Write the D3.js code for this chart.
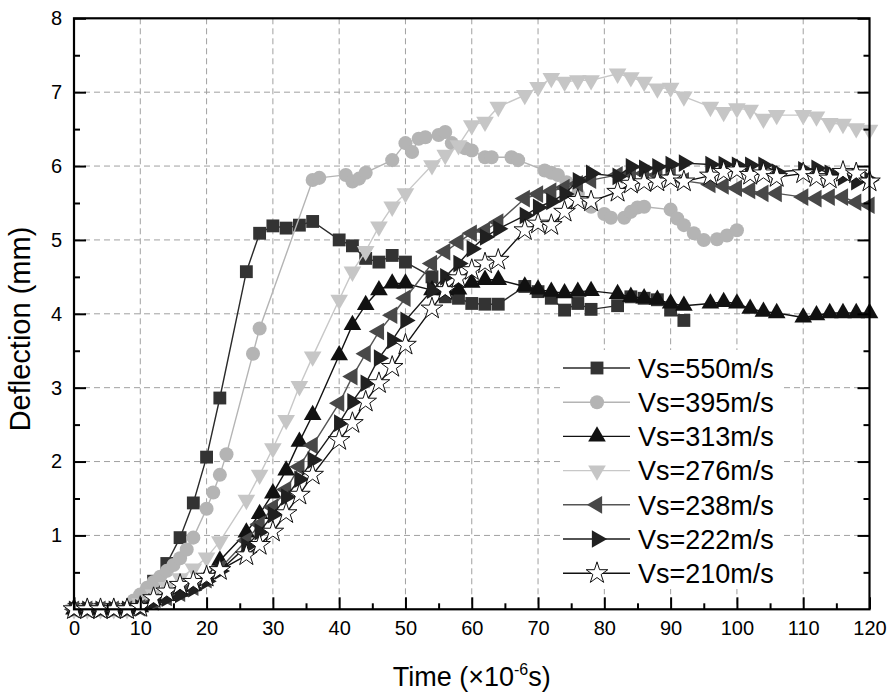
<!DOCTYPE html>
<html>
<head>
<meta charset="utf-8">
<script src="https://cdn.jsdelivr.net/npm/d3@7"></script>
<style>
  body { margin: 0; background: #fff; }
  svg { display: block; font-family: Arial, "Liberation Sans", sans-serif; }
  .grid line { stroke: #a0a0a0; stroke-dasharray: 6,4; stroke-width: 1; }
</style>
</head>
<body>
<svg id="chart" width="891" height="698"></svg>
<script>
// Deflection (mm) vs time (x1e-6 s)
const vs550 = [[0,0],[2,0],[4,0],[6,0],[8,0],[10,0.15],[12,0.38],[14,0.62],[16,0.97],[18,1.44],[20,2.06],
  [22,2.86],[26,4.57],[28,5.09],[30,5.19],[32,5.16],[34,5.2],[36,5.25],[40,5.0],[42,4.92],[44,4.75],
  [46,4.7],[48,4.79],[50,4.7],[54,4.5],[56,4.23],[58,4.21],[60,4.14],[62,4.13],[64,4.13],[68,4.37],
  [70,4.3],[72,4.21],[74,4.05],[76,4.14],[78,4.06],[82,4.11],[84,4.23],[86,4.21],[88,4.19],[90,4.05],[92,3.91]];
const vs395 = [[0,0],[2,0],[4,0],[6,0],[8,0],[9,0.12],[10,0.2],[11,0.29],[12,0.37],[13,0.44],[14,0.52],
  [15,0.6],[16,0.69],[17,0.81],[18,0.97],[20,1.36],[21,1.58],[22,1.82],[23,2.1],[27,3.46],[28,3.8],
  [36,5.81],[37,5.84],[41,5.88],[42,5.79],[43,5.83],[44,5.91],[48,6.08],[50,6.31],[51,6.19],[52,6.37],
  [53,6.39],[55,6.42],[56,6.46],[57,6.31],[59,6.24],[60,6.21],[62,6.12],[63,6.12],[66,6.12],[67,6.08],
  [71,5.94],[72,5.91],[73,5.88],[74.3,5.78],[76,5.62],[78,5.45],[80,5.35],[81,5.3],[83,5.3],[84,5.38],
  [85,5.44],[86,5.45],[90,5.41],[91,5.29],[92,5.2],[93.5,5.09],[95,5.0],[97,5.01],[98.5,5.06],[100,5.13]];
const vs313 = [[0,0],[2,0],[4,0],[6,0],[8,0],[10,0.03],[12,0.12],[14,0.18],[16,0.24],[18,0.32],[20,0.44],
  [22,0.66],[26,1.04],[28,1.29],[30,1.57],[32,1.88],[34,2.27],[36,2.63],[40,3.44],[42,3.85],[44,4.12],
  [46,4.32],[48,4.41],[50,4.41],[54,4.32],[56,4.32],[58,4.33],[60,4.42],[62,4.46],[64,4.46],[68,4.37],
  [70,4.33],[72,4.3],[74,4.28],[76,4.3],[78,4.31],[82,4.27],[84,4.23],[86,4.21],[88,4.19],[90,4.14],
  [92,4.11],[96,4.14],[98,4.16],[100,4.14],[102,4.07],[104,4.03],[106,4.01],[110,3.95],[112,3.98],
  [114,4.01],[116,4.01],[118,4.01],[120,4.01]];
const vs276 = [[0,0],[2,0],[4,0],[6,0],[8,0],[10,0.08],[12,0.2],[14,0.3],[16,0.42],[18,0.55],[20,0.7],
  [22,0.92],[26,1.48],[28,1.82],[30,2.18],[32,2.56],[34,3.02],[36,3.42],[40,4.19],[42,4.57],[44,4.85],
  [46,5.18],[48,5.45],[50,5.63],[54,6.01],[56,6.15],[58,6.28],[60,6.55],[62,6.6],[64,6.8],[68,6.96],
  [70,7.07],[72,7.19],[74,7.14],[76,7.16],[78,7.16],[82,7.25],[84,7.2],[86,7.14],[88,7.05],[90,7.06],
  [92,6.94],[96,6.8],[98,6.73],[100,6.78],[102,6.76],[104,6.64],[106,6.69],[110,6.69],[112,6.67],
  [114,6.58],[116,6.57],[118,6.51],[120,6.49]];
const vs238 = [[0,0],[2,0],[4,0],[6,0],[8,0],[10,0.02],[12,0.1],[14,0.16],[16,0.22],[18,0.3],[20,0.4],
  [22,0.55],[26,0.93],[28,1.15],[30,1.38],[32,1.62],[34,1.93],[36,2.22],[40,2.79],[42,3.15],[44,3.46],
  [46,3.76],[48,3.98],[50,4.21],[54,4.68],[56,4.84],[58,4.97],[60,5.09],[62,5.13],[64,5.24],[68,5.56],
  [70,5.62],[72,5.66],[74,5.71],[76,5.76],[78,5.81],[82,5.88],[84,5.9],[86,5.9],[88,5.88],[90,5.86],
  [92,5.8],[96,5.75],[98,5.73],[100,5.7],[102,5.67],[104,5.63],[106,5.63],[110,5.58],[112,5.56],
  [114,5.58],[116,5.58],[118,5.51],[120,5.47]];
const vs222 = [[0,0],[2,0],[4,0],[6,0],[8,0],[10,0.02],[12,0.1],[14,0.15],[16,0.2],[18,0.28],[20,0.38],
  [22,0.52],[26,0.85],[28,1.05],[30,1.28],[32,1.52],[34,1.76],[36,2.02],[40,2.52],[42,2.81],[44,3.06],
  [46,3.4],[48,3.64],[50,3.91],[54,4.32],[56,4.5],[58,4.68],[60,4.88],[62,5.04],[64,5.15],[68,5.33],
  [70,5.44],[72,5.52],[74,5.62],[76,5.8],[78,5.9],[82,5.86],[84,5.99],[86,5.97],[88,5.99],[90,6.02],
  [92,6.04],[96,6.02],[98,6.02],[100,6.01],[102,6.01],[104,6.01],[106,5.92],[110,5.95],[112,5.97],
  [114,5.9],[116,5.85],[118,5.79],[120,5.81]];
const vs210 = [[0,0],[2,0],[4,0],[6,0],[8,0],[10,0.03],[12,0.15],[14,0.24],[16,0.33],[18,0.37],[20,0.44],
  [22,0.53],[26,0.73],[28,0.87],[30,1.05],[32,1.3],[34,1.55],[36,1.82],[40,2.29],[42,2.52],[44,2.81],
  [46,3.06],[48,3.28],[50,3.58],[54,4.07],[56,4.32],[58,4.48],[60,4.59],[62,4.68],[64,4.73],[68,5.13],
  [70,5.22],[72,5.2],[74,5.38],[76,5.54],[78,5.52],[82,5.65],[84,5.76],[86,5.78],[88,5.79],[90,5.83],
  [92,5.79],[96,5.87],[98,5.92],[100,5.94],[102,5.88],[104,5.9],[106,5.85],[110,5.9],[112,5.85],
  [114,5.83],[116,5.92],[118,5.9],[120,5.79]];

const seriesNames = ["Vs=550m/s", "Vs=395m/s", "Vs=313m/s", "Vs=276m/s", "Vs=238m/s", "Vs=222m/s", "Vs=210m/s"];
const xTicks = [0, 10, 20, 30, 40, 50, 60, 70, 80, 90, 100, 110, 120];
const yTicks = [1, 2, 3, 4, 5, 6, 7, 8];

const series = [
  { name: seriesNames[0], data: vs550, line: "#2a2a2a", fill: "#333333", stroke: "none", sym: d3.symbolSquare, size: 165, rot: 0 },
  { name: seriesNames[1], data: vs395, line: "#b4b4b4", fill: "#b4b4b4", stroke: "none", sym: d3.symbolCircle, size: 155, rot: 0 },
  { name: seriesNames[2], data: vs313, line: "#111111", fill: "#111111", stroke: "none", sym: d3.symbolTriangle, size: 135, rot: 0 },
  { name: seriesNames[3], data: vs276, line: "#c8c8c8", fill: "#c6c6c6", stroke: "none", sym: d3.symbolTriangle, size: 135, rot: 180 },
  { name: seriesNames[4], data: vs238, line: "#555555", fill: "#484848", stroke: "none", sym: d3.symbolTriangle, size: 135, rot: -90 },
  { name: seriesNames[5], data: vs222, line: "#1a1a1a", fill: "#202020", stroke: "none", sym: d3.symbolTriangle, size: 135, rot: 90 },
  { name: seriesNames[6], data: vs210, line: "#111111", fill: "#ffffff", stroke: "#111111", sym: d3.symbolStar, size: 145, rot: 0 }
];

const svg = d3.select("#chart");
const pLeft = 74, pRight = 869.5, pTop = 18.3, pBottom = 609.3;
const x = d3.scaleLinear().domain([0, 120]).range([pLeft, pRight]);
const y = d3.scaleLinear().domain([0, 8]).range([pBottom, pTop]);

// dashed grid
const grid = svg.append("g").attr("class", "grid");
grid.selectAll(".gx").data(xTicks.filter(t => t > 0 && t < 120)).join("line")
  .attr("x1", d => x(d)).attr("x2", d => x(d)).attr("y1", pTop).attr("y2", pBottom);
grid.selectAll(".gy").data(yTicks.filter(t => t < 8)).join("line")
  .attr("x1", pLeft).attr("x2", pRight).attr("y1", d => y(d)).attr("y2", d => y(d));

// legend background masks the grid
svg.append("rect").attr("x", 563).attr("y", 350).attr("width", 219).attr("height", 239).attr("fill", "#fff");

// series
const lineGen = d3.line().x(d => x(d[0])).y(d => y(d[1]));
const plot = svg.append("g");
series.forEach(s => {
  plot.append("path").datum(s.data).attr("d", lineGen)
    .attr("fill", "none").attr("stroke", s.line).attr("stroke-width", 1.4);
  const sym = d3.symbol().type(s.sym).size(s.size);
  plot.selectAll(null).data(s.data).join("path")
    .attr("d", sym)
    .attr("transform", d => `translate(${x(d[0])},${y(d[1])}) rotate(${s.rot})`)
    .attr("fill", s.fill).attr("stroke", s.stroke).attr("stroke-width", 1);
});

// axes: ticks drawn inside the frame
const xAxisB = d3.axisBottom(x).tickValues(xTicks).tickSize(-12).tickPadding(12).tickFormat(d3.format("d"));
const xMinor = d3.axisBottom(x).tickValues(d3.range(5, 120, 10)).tickSize(-6).tickFormat("");
const yAxisL = d3.axisLeft(y).tickValues(yTicks).tickSize(-12).tickPadding(12).tickFormat(d3.format("d"));
const yMinor = d3.axisLeft(y).tickValues(d3.range(0.5, 8, 1)).tickSize(-6).tickFormat("");
const yAxisR = d3.axisRight(y).tickValues(yTicks).tickSize(-12).tickFormat("");
const yMinorR = d3.axisRight(y).tickValues(d3.range(0.5, 8, 1)).tickSize(-6).tickFormat("");

function styleAxis(g) {
  g.select(".domain").remove();
  g.selectAll(".tick line").attr("stroke", "#000").attr("stroke-width", 2);
  g.selectAll(".tick text").attr("fill", "#000").style("font-size", "20px")
    .style("font-family", "Arial, 'Liberation Sans', sans-serif");
}
svg.append("g").attr("transform", `translate(0,${pBottom})`).call(xAxisB).call(styleAxis);
svg.append("g").attr("transform", `translate(0,${pBottom})`).call(xMinor).call(styleAxis);
svg.append("g").attr("transform", `translate(${pLeft},0)`).call(yAxisL).call(styleAxis);
svg.append("g").attr("transform", `translate(${pLeft},0)`).call(yMinor).call(styleAxis);
svg.append("g").attr("transform", `translate(${pRight},0)`).call(yAxisR).call(styleAxis);
svg.append("g").attr("transform", `translate(${pRight},0)`).call(yMinorR).call(styleAxis);

// frame
svg.append("rect").attr("x", pLeft).attr("y", pTop).attr("width", pRight - pLeft).attr("height", pBottom - pTop)
  .attr("fill", "none").attr("stroke", "#000").attr("stroke-width", 2.2);

// axis titles
svg.append("text").attr("transform", "translate(30,329) rotate(-90)")
  .attr("text-anchor", "middle").style("font-size", "29px").text("Deflection (mm)");
const xt = svg.append("text").attr("x", (pLeft + pRight) / 2).attr("y", 686)
  .attr("text-anchor", "middle").style("font-size", "27px");
xt.append("tspan").text("Time (×10");
xt.append("tspan").attr("dy", -11).style("font-size", "16px").text("-6");
xt.append("tspan").attr("dy", 11).text("s)");

// legend
const lg = svg.append("g");
series.forEach((s, i) => {
  const cy = 368 + i * 34.2;
  lg.append("line").attr("x1", 563).attr("x2", 630).attr("y1", cy).attr("y2", cy)
    .attr("stroke", s.line).attr("stroke-width", 1.4);
  lg.append("path").attr("d", d3.symbol().type(s.sym).size(s.size)())
    .attr("transform", `translate(597,${cy}) rotate(${s.rot})`)
    .attr("fill", s.fill).attr("stroke", s.stroke).attr("stroke-width", 1);
  lg.append("text").attr("x", 638).attr("y", cy).attr("dy", "0.36em")
    .style("font-size", "27px").text(s.name);
});
</script>
</body>
</html>
